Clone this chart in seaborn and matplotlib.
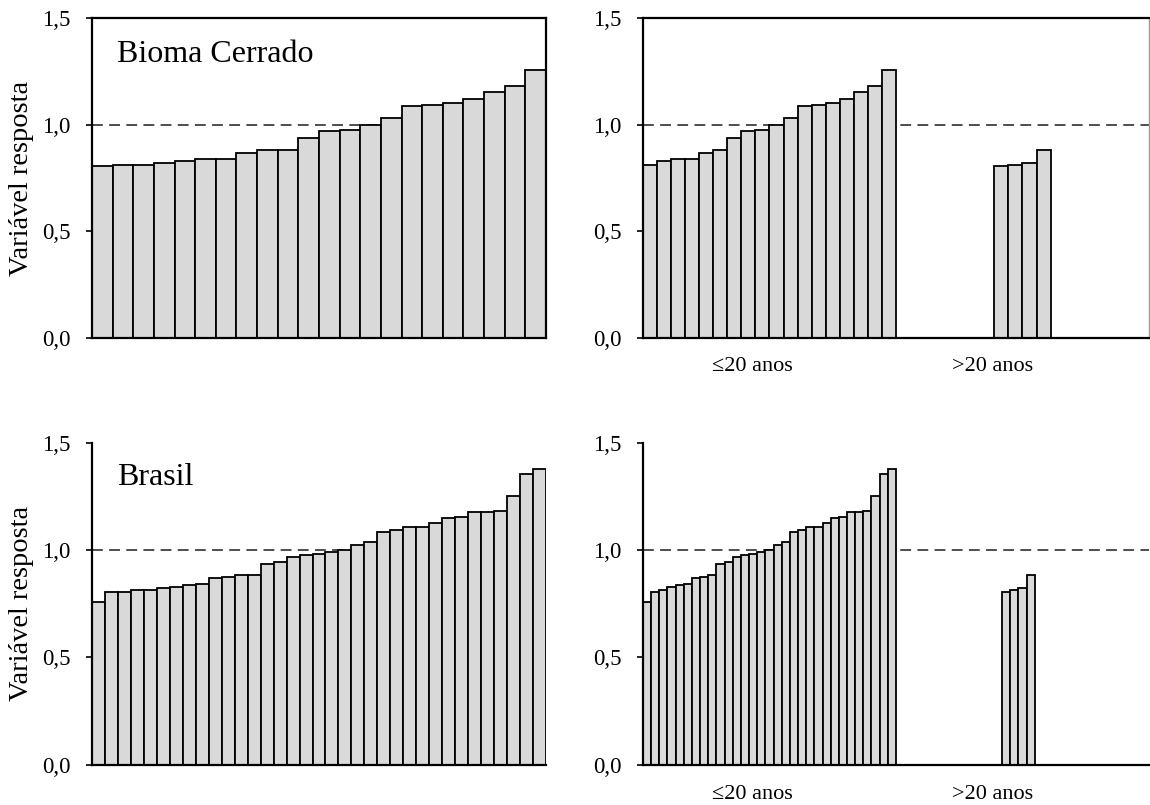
import numpy as np
import pandas as pd
import matplotlib
matplotlib.use("Agg")
import matplotlib.pyplot as plt
import seaborn as sns

# Response values per study, split by stand age
cerrado_le20 = [0.813, 0.830, 0.838, 0.840, 0.867, 0.884, 0.936, 0.969, 0.975,
                0.997, 1.034, 1.087, 1.094, 1.104, 1.121, 1.155, 1.183, 1.255]
cerrado_gt20 = [0.805, 0.812, 0.823, 0.884]

brasil_le20 = [0.758, 0.806, 0.814, 0.829, 0.836, 0.840, 0.868, 0.873, 0.884,
               0.936, 0.943, 0.969, 0.975, 0.983, 0.989, 0.998, 1.023, 1.035,
               1.085, 1.094, 1.105, 1.107, 1.124, 1.147, 1.155, 1.175, 1.177,
               1.181, 1.251, 1.355, 1.375]
brasil_gt20 = [0.806, 0.812, 0.823, 0.885]

panel_texts = ["Bioma Cerrado", "Brasil"]
group_labels = ["\u226420 anos", ">20 anos"]
y_ticks = [0.0, 0.5, 1.0, 1.5]
y_label = "Variável resposta"

sns.set_theme(style="white")
plt.rcParams["font.family"] = ["Liberation Serif", "DejaVu Serif"]
plt.rcParams["text.color"] = "black"
plt.rcParams["axes.labelcolor"] = "black"

BAR_FILL = "#d9d9d9"
BAR_EDGE = "black"
REF_COLOR = "#404040"

fig = plt.figure(figsize=(11.5, 8.05), dpi=100)

col_x = [0.080, 0.5591]
col_w = [0.3948, 0.440]
row_y = [0.580, 0.0497]
row_h = [0.3975, 0.4006]


def style_axis(ax, boxed, right_color):
    ax.set_ylim(0, 1.5)
    ax.set_yticks(y_ticks)
    ax.set_yticklabels([f"{t:.1f}".replace(".", ",") for t in y_ticks])
    ax.tick_params(axis="y", direction="out", length=4.5, width=1.2,
                   pad=11, labelsize=16.5, colors="black", left=True)
    ax.tick_params(axis="x", bottom=False, labelbottom=False)
    ax.set_xlabel("")
    ax.set_ylabel("")
    for side in ["left", "bottom"]:
        ax.spines[side].set_visible(True)
        ax.spines[side].set_color("black")
        ax.spines[side].set_linewidth(1.6)
    ax.spines["top"].set_visible(boxed)
    ax.spines["top"].set_color("black")
    ax.spines["top"].set_linewidth(1.6)
    ax.spines["right"].set_visible(boxed)
    ax.spines["right"].set_color(right_color)
    ax.spines["right"].set_linewidth(1.6 if right_color == "black" else 1.0)
    ax.axhline(1.0, color=REF_COLOR, lw=1.3, ls=(0, (6, 3.5)), zorder=0.5)


def draw_bars(ax, pos, vals):
    df = pd.DataFrame({"pos": pos, "val": vals})
    sns.barplot(data=df, x="pos", y="val", native_scale=True, width=1.0,
                color=BAR_FILL, edgecolor=BAR_EDGE, linewidth=1.3,
                errorbar=None, saturation=1, ax=ax, zorder=2)


datasets = [(cerrado_le20, cerrado_gt20), (brasil_le20, brasil_gt20)]

for r, (le20, gt20) in enumerate(datasets):
    boxed = (r == 0)

    # all studies, sorted
    ax_l = fig.add_axes([col_x[0], row_y[r], col_w[0], row_h[r]])
    all_vals = sorted(le20 + gt20)
    n_all = len(all_vals)
    draw_bars(ax_l, np.arange(n_all) + 0.5, all_vals)
    ax_l.set_xlim(0, n_all)
    style_axis(ax_l, boxed, "black")
    ax_l.set_ylabel(y_label, fontsize=20.5, labelpad=6)
    ax_l.text(0.055, 0.885 if r == 0 else 0.893, panel_texts[r],
              transform=ax_l.transAxes, fontsize=23, va="center", ha="left")

    # split by age class: two category slots of equal width
    ax_r = fig.add_axes([col_x[1], row_y[r], col_w[1], row_h[r]])
    n = len(le20)
    m = len(gt20)
    pos_le = np.arange(n) + 0.5
    offset = n + (n - m) // 2
    pos_gt = offset + np.arange(m) + 0.5
    draw_bars(ax_r, np.concatenate([pos_le, pos_gt]), list(le20) + list(gt20))
    ax_r.set_xlim(0, 2 * n)
    style_axis(ax_r, boxed, "#9a9a9a")
    for xf, lab in zip([0.216, 0.69], group_labels):
        ax_r.text(xf, -0.09, lab, transform=ax_r.transAxes, fontsize=16,
                  ha="center", va="center")

fig.savefig("out.png", dpi=100)
